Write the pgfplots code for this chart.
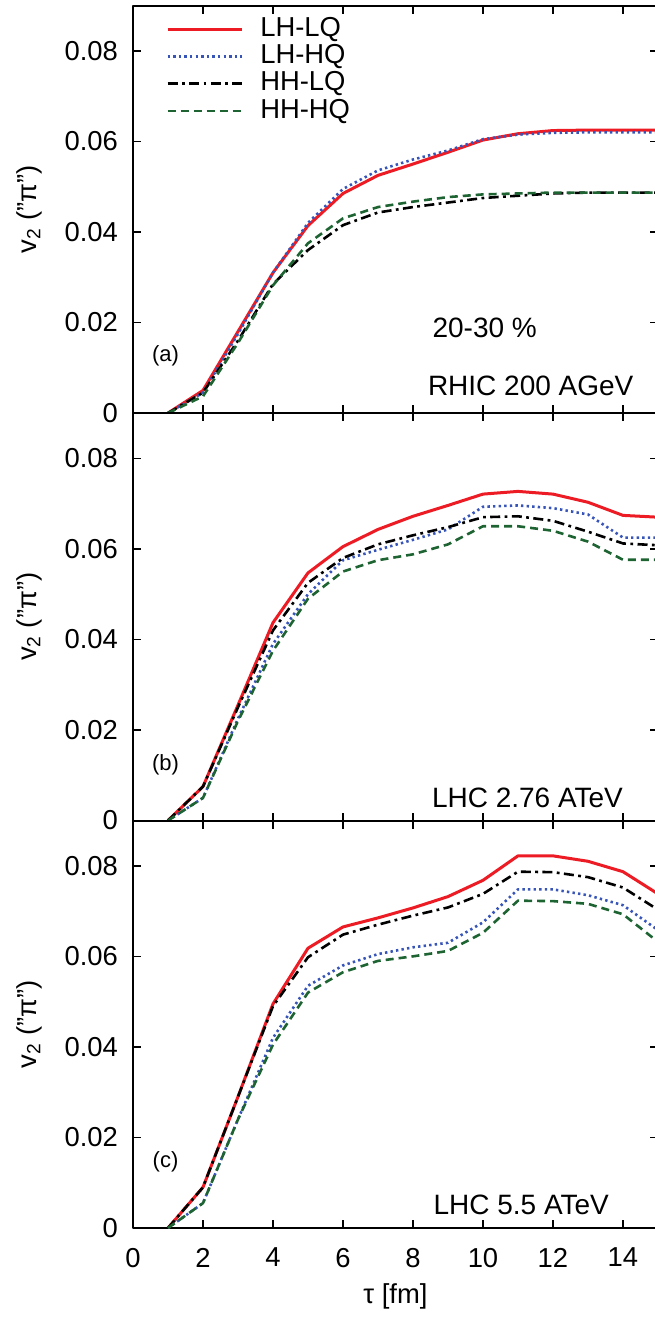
\documentclass[border=0pt]{standalone}
\usepackage{fontspec}
\setmainfont{Liberation Sans}
\usepackage{pgfplots}
\usepackage{pgfplotstable}
\pgfplotsset{compat=1.18}

\definecolor{cRed}{RGB}{237,28,36}
\definecolor{cBlue}{RGB}{55,85,185}
\definecolor{cGreen}{RGB}{30,100,50}

\pgfplotstableread{
t  lhlq    lhhq    hhlq    hhhq
1  0       0       0       0
2  0.0050  0.0045  0.0045  0.0037
3  0.0180  0.0175  0.0160  0.0155
4  0.0310  0.0310  0.0285  0.0282
5  0.0414  0.0420  0.0360  0.0375
6  0.0485  0.0495  0.0415  0.0430
7  0.0525  0.0536  0.0443  0.0455
8  0.0550  0.0560  0.0455  0.0467
9  0.0576  0.0580  0.0465  0.0477
10 0.0603  0.0605  0.0475  0.0483
11 0.0617  0.0615  0.0480  0.0485
12 0.0624  0.0619  0.0485  0.0487
13 0.0625  0.0620  0.0487  0.0487
14 0.0625  0.0620  0.0487  0.0487
15 0.0625  0.0620  0.0487  0.0487
}\tabA

\pgfplotstableread{
t  lhlq    lhhq    hhlq    hhhq
1  0       0       0       0
2  0.0075  0.0050  0.0075  0.0050
3  0.0255  0.0225  0.0250  0.0220
4  0.0437  0.0390  0.0420  0.0375
5  0.0547  0.0500  0.0525  0.0490
6  0.0605  0.0575  0.0580  0.0550
7  0.0643  0.0598  0.0610  0.0575
8  0.0672  0.0620  0.0630  0.0588
9  0.0696  0.0643  0.0648  0.0610
10 0.0721  0.0693  0.0670  0.0650
11 0.0727  0.0696  0.0672  0.0650
12 0.0721  0.0690  0.0662  0.0640
13 0.0703  0.0676  0.0638  0.0616
14 0.0674  0.0625  0.0612  0.0576
15 0.0670  0.0625  0.0608  0.0576
}\tabB

\pgfplotstableread{
t  lhlq    lhhq    hhlq    hhhq
1  0       0       0       0
2  0.0090  0.0055  0.0090  0.0055
3  0.0290  0.0240  0.0290  0.0240
4  0.0495  0.0420  0.0490  0.0405
5  0.0618  0.0535  0.0598  0.0520
6  0.0665  0.0580  0.0648  0.0565
7  0.0685  0.0605  0.0670  0.0590
8  0.0707  0.0620  0.0690  0.0600
9  0.0732  0.0630  0.0708  0.0612
10 0.0768  0.0675  0.0738  0.0652
11 0.0822  0.0748  0.0787  0.0723
12 0.0822  0.0748  0.0786  0.0722
13 0.0810  0.0735  0.0775  0.0716
14 0.0787  0.0713  0.0752  0.0693
15 0.0738  0.0658  0.0703  0.0632
}\tabC

\pgfplotsset{
  panel/.style={
    width=262.5pt, height=203.75pt, scale only axis,
    xmin=0, xmax=15, ymin=0, ymax=0.09,
    xtick={0,2,...,14}, ytick={0,0.02,0.04,0.06,0.08},
    scaled y ticks=false,
    yticklabel style={/pgf/number format/fixed, /pgf/number format/precision=2,
      /pgf/number format/assume math mode=true, xshift=-4pt},
    xticklabel style={/pgf/number format/assume math mode=true, yshift=-6.5pt},
    tick label style={font=\fontsize{13.7}{16}\selectfont},
    label style={font=\fontsize{13.7}{16}\selectfont},
    every axis y label/.style={at={(rel axis cs:0,0.5)}, anchor=center, xshift=-52pt, rotate=90,
      font=\fontsize{13.7}{16}\selectfont},
    xlabel style={yshift=-1pt},
    tick align=inside, major tick length=4pt,
    axis line style={line width=1pt},
    every tick/.style={line width=0.8pt, black},
    ylabel={v\textsubscript{2} ("π")},
    line join=round,
  },
  sLHLQ/.style={cRed, line width=1.5pt},
  sLHHQ/.style={cBlue, line width=1.3pt, dash pattern=on 1.2pt off 1.6pt},
  sHHLQ/.style={black, line width=1.3pt, dash pattern=on 5pt off 2.2pt on 1.4pt off 2.2pt},
  sHHHQ/.style={cGreen, line width=1.3pt, dash pattern=on 4pt off 2.5pt},
}

\begin{document}
\begin{tikzpicture}
\begin{axis}[panel, name=A, xticklabels={},
  legend style={draw=none, fill=none, inner sep=0pt, outer sep=0pt,
    at={(rel axis cs:0.063,0.976)}, anchor=north west,
    font=\fontsize{13.7}{16}\selectfont, column sep=8pt, row sep=-0.4pt,
    nodes={inner sep=0.6pt, text height=10pt, text depth=2.8pt}},
  legend cell align=left,
  legend image code/.code={\draw[#1] (0cm,0cm) -- (37pt,0cm);},
]
\addplot[sLHLQ] table[x=t,y=lhlq] {\tabA};
\addlegendentry{LH-LQ}
\addplot[sLHHQ] table[x=t,y=lhhq] {\tabA};
\addlegendentry{LH-HQ}
\addplot[sHHLQ] table[x=t,y=hhlq] {\tabA};
\addlegendentry{HH-LQ}
\addplot[sHHHQ] table[x=t,y=hhhq] {\tabA};
\addlegendentry{HH-HQ}
\node[font=\fontsize{11}{13}\selectfont] at (axis cs:0.93,0.0126) {(a)};
\node[font=\fontsize{14}{16}\selectfont] at (axis cs:10.05,0.0188) {20-30 \%};
\node[font=\fontsize{14}{16}\selectfont, anchor=east] at (axis cs:14.5,0.006) {RHIC 200 AGeV};
\end{axis}

\begin{axis}[panel, name=B, at={(A.south west)}, anchor=north west, xticklabels={}]
\addplot[sLHLQ] table[x=t,y=lhlq] {\tabB};
\addplot[sLHHQ] table[x=t,y=lhhq] {\tabB};
\addplot[sHHLQ] table[x=t,y=hhlq] {\tabB};
\addplot[sHHHQ] table[x=t,y=hhhq] {\tabB};
\node[font=\fontsize{11}{13}\selectfont] at (axis cs:0.93,0.0122) {(b)};
\node[font=\fontsize{14}{16}\selectfont, anchor=east] at (axis cs:14.2,0.0051) {LHC 2.76 ATeV};
\end{axis}

\begin{axis}[panel, name=C, at={(B.south west)}, anchor=north west, xlabel={τ [fm]}]
\addplot[sLHLQ] table[x=t,y=lhlq] {\tabC};
\addplot[sLHHQ] table[x=t,y=lhhq] {\tabC};
\addplot[sHHLQ] table[x=t,y=hhlq] {\tabC};
\addplot[sHHHQ] table[x=t,y=hhhq] {\tabC};
\node[font=\fontsize{11}{13}\selectfont] at (axis cs:0.93,0.0146) {(c)};
\node[font=\fontsize{14}{16}\selectfont, anchor=east] at (axis cs:13.8,0.0051) {LHC 5.5 ATeV};
\end{axis}
\pgfresetboundingbox
\path ([xshift=-66.5pt, yshift=-44.5pt]C.south west) rectangle ([xshift=-1.5pt, yshift=2.8pt]A.north east);
\end{tikzpicture}
\end{document}
